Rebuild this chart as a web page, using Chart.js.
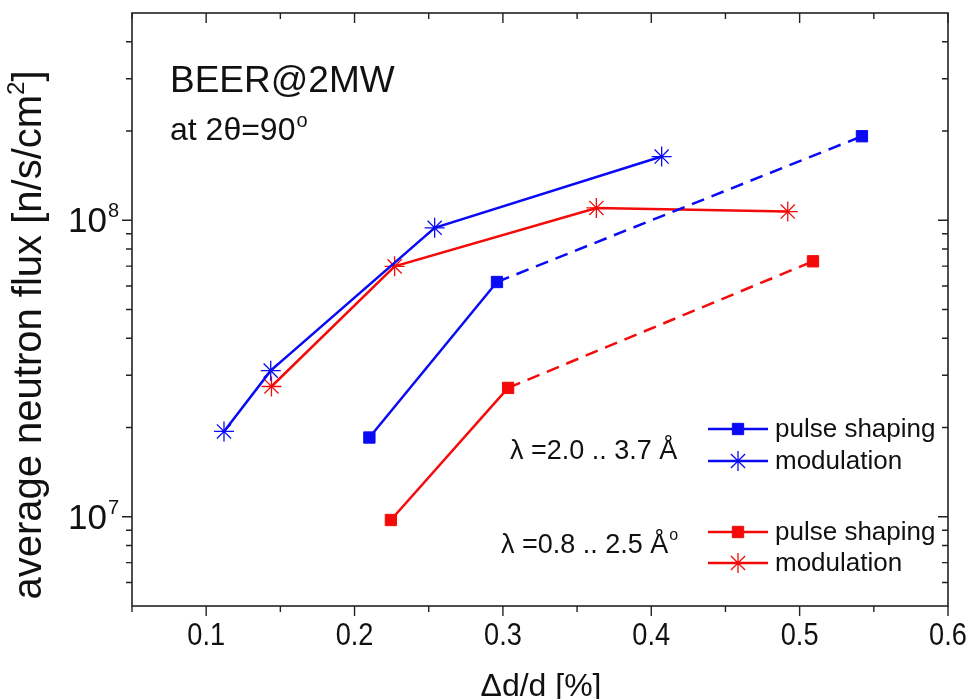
<!DOCTYPE html>
<html>
<head>
<meta charset="utf-8">
<script src="https://cdn.jsdelivr.net/npm/chart.js@4"></script>
<style>
  html, body { margin: 0; padding: 0; background: #fff; }
  #wrap { width: 976px; height: 699px; }
</style>
</head>
<body>
<div id="wrap"><canvas id="fluxChart" width="976" height="699"></canvas></div>
<script>
// resolution dd/d [%] vs. average flux [n/s/cm2]
var blueShapingX = [0.210, 0.296, 0.542];
var blueShapingY = [1.85e7, 6.19e7, 1.92e8];
var blueModX = [0.112, 0.1435, 0.254, 0.407];
var blueModY = [1.94e7, 3.11e7, 9.43e7, 1.64e8];
var redShapingX = [0.2245, 0.3035, 0.509];
var redShapingY = [9.75e6, 2.72e7, 7.27e7];
var redModX = [0.144, 0.227, 0.363, 0.492];
var redModY = [2.75e7, 6.99e7, 1.10e8, 1.07e8];

var xTicks = [0.1, 0.2, 0.3, 0.4, 0.5, 0.6];
var xTickLabels = ['0.1', '0.2', '0.3', '0.4', '0.5', '0.6'];
var xMinor = [0.05, 0.15, 0.25, 0.35, 0.45, 0.55];
var yTicks = [1e7, 1e8];
var yTickExp = ['7', '8'];
var yMinor = [6e6, 7e6, 8e6, 9e6, 2e7, 3e7, 4e7, 5e7, 6e7, 7e7, 8e7, 9e7, 2e8, 3e8, 4e8];

var BLUE = '#0a0af5';
var RED = '#f50a0a';
var FONT = '"Liberation Sans", Arial, sans-serif';

function pts(xs, ys) {
  return xs.map(function (x, i) { return { x: x, y: ys[i] }; });
}

// last segment of the pulse shaping curves is dashed
var dashTail = function (c) { return c.p0DataIndex === 1 ? [13, 8] : undefined; };

function sq(color) {
  return { pointStyle: 'rect', pointRadius: 8, pointBackgroundColor: color, pointBorderColor: color, pointBorderWidth: 1 };
}
function star(color) {
  return { pointStyle: 'star', pointRadius: 10, pointBackgroundColor: color, pointBorderColor: color, pointBorderWidth: 1.3 };
}

function font(px) { return px + 'px ' + FONT; }

function textSup(ctx, base, sup, x, y, bPx, sPx, rise) {
  ctx.font = font(bPx);
  ctx.fillText(base, x, y);
  var w = ctx.measureText(base).width;
  ctx.font = font(sPx);
  ctx.fillText(sup, x + w + 1, y - rise);
}

var framePlugin = {
  id: 'frame',
  afterDraw: function (chart) {
    var ctx = chart.ctx;
    var a = chart.chartArea;
    var xs = chart.scales.x, ys = chart.scales.y;
    ctx.save();
    ctx.strokeStyle = '#222';
    ctx.lineWidth = 1.6;
    ctx.strokeRect(a.left, a.top, a.right - a.left, a.bottom - a.top);

    // ticks: out on bottom/left, in on top/right
    ctx.lineWidth = 1.4;
    ctx.beginPath();
    function xt(v, len) {
      var p = xs.getPixelForValue(v);
      ctx.moveTo(p, a.bottom); ctx.lineTo(p, a.bottom + len);
      ctx.moveTo(p, a.top); ctx.lineTo(p, a.top + len);
    }
    function yt(v, len) {
      var p = ys.getPixelForValue(v);
      ctx.moveTo(a.left, p); ctx.lineTo(a.left - len, p);
      ctx.moveTo(a.right, p); ctx.lineTo(a.right - len, p);
    }
    xTicks.forEach(function (v) { xt(v, 10); });
    xMinor.forEach(function (v) { xt(v, 6); });
    yTicks.forEach(function (v) { yt(v, 10); });
    yMinor.forEach(function (v) { yt(v, 6); });
    ctx.stroke();

    ctx.fillStyle = '#111';
    ctx.textBaseline = 'alphabetic';

    // x tick labels, slightly narrow face
    ctx.font = font(32);
    ctx.textAlign = 'center';
    xTicks.forEach(function (v, i) {
      ctx.save();
      ctx.translate(xs.getPixelForValue(v), 645);
      ctx.scale(0.85, 1);
      ctx.fillText(xTickLabels[i], 0, 0);
      ctx.restore();
    });

    // y tick labels 10^n
    ctx.textAlign = 'left';
    yTicks.forEach(function (v, i) {
      var p = ys.getPixelForValue(v);
      ctx.font = font(35);
      var w = ctx.measureText('10').width;
      textSup(ctx, '10', yTickExp[i], 107 - w, p + 12, 35, 20, 15);
    });

    // axis titles
    ctx.textAlign = 'center';
    ctx.font = font(32);
    ctx.fillText('\u0394d/d [%]', 541, 696);
    ctx.save();
    ctx.translate(41, 335);
    ctx.rotate(-Math.PI / 2);
    ctx.textAlign = 'left';
    ctx.font = font(40);
    var t1 = 'average neutron flux [n/s/cm';
    var w1 = ctx.measureText(t1).width;
    ctx.font = font(24);
    var w2 = ctx.measureText('2').width;
    ctx.font = font(40);
    var w3 = ctx.measureText(']').width;
    var x0 = -(w1 + w2 + w3) / 2;
    ctx.fillText(t1, x0, 0);
    ctx.font = font(24);
    ctx.fillText('2', x0 + w1, -17);
    ctx.font = font(40);
    ctx.fillText(']', x0 + w1 + w2, 0);
    ctx.restore();

    // annotations
    ctx.textAlign = 'left';
    ctx.font = font(37);
    ctx.fillText('BEER@2MW', 170, 92);
    textSup(ctx, 'at 2\u03b8=90', 'o', 170, 140, 32, 20, 13);

    ctx.font = font(27);
    ctx.fillText('\u03bb =2.0 .. 3.7 \u00c5', 510, 459);
    textSup(ctx, '\u03bb =0.8 .. 2.5 \u00c5', 'o', 501, 553, 27, 16, 13);

    // legend
    var items = [
      { y: 429, color: BLUE, style: 'rect', text: 'pulse shaping' },
      { y: 461, color: BLUE, style: 'star', text: 'modulation' },
      { y: 532, color: RED, style: 'rect', text: 'pulse shaping' },
      { y: 563, color: RED, style: 'star', text: 'modulation' }
    ];
    items.forEach(function (it) {
      ctx.strokeStyle = it.color;
      ctx.lineWidth = 2.5;
      ctx.beginPath();
      ctx.moveTo(708, it.y); ctx.lineTo(768, it.y);
      ctx.stroke();
      ctx.fillStyle = it.color;
      ctx.lineWidth = it.style === 'star' ? 1.3 : 1;
      Chart.helpers.drawPoint(ctx, { pointStyle: it.style, radius: it.style === 'star' ? 10 : 8, rotation: 0, borderWidth: ctx.lineWidth }, 738, it.y);
      ctx.fillStyle = '#111';
      ctx.font = font(26);
      ctx.fillText(it.text, 775, it.y + 8);
    });
    ctx.restore();
  }
};

var ctx = document.getElementById('fluxChart');
var chart = new Chart(ctx, {
  type: 'line',
  data: {
    datasets: [
      Object.assign({ label: 'pulse shaping 2.0-3.7', data: pts(blueShapingX, blueShapingY), borderColor: BLUE, borderWidth: 2.5, segment: { borderDash: dashTail } }, sq(BLUE)),
      Object.assign({ label: 'modulation 2.0-3.7', data: pts(blueModX, blueModY), borderColor: BLUE, borderWidth: 2.5 }, star(BLUE)),
      Object.assign({ label: 'pulse shaping 0.8-2.5', data: pts(redShapingX, redShapingY), borderColor: RED, borderWidth: 2.5, segment: { borderDash: dashTail } }, sq(RED)),
      Object.assign({ label: 'modulation 0.8-2.5', data: pts(redModX, redModY), borderColor: RED, borderWidth: 2.5 }, star(RED))
    ]
  },
  options: {
    responsive: false,
    devicePixelRatio: 1,
    animation: false,
    clip: false,
    layout: { padding: { left: 0, top: 13, right: 28, bottom: 0 } },
    plugins: { legend: { display: false }, tooltip: { enabled: false } },
    scales: {
      x: {
        type: 'linear', min: 0.05, max: 0.6,
        grid: { display: false }, border: { display: false },
        ticks: { display: false },
        afterFit: function (s) { s.height = 93; }
      },
      y: {
        type: 'logarithmic', min: 5e6, max: 5e8,
        grid: { display: false }, border: { display: false },
        ticks: { display: false },
        afterFit: function (s) { s.width = 132; }
      }
    }
  },
  plugins: [framePlugin]
});
</script>
</body>
</html>
